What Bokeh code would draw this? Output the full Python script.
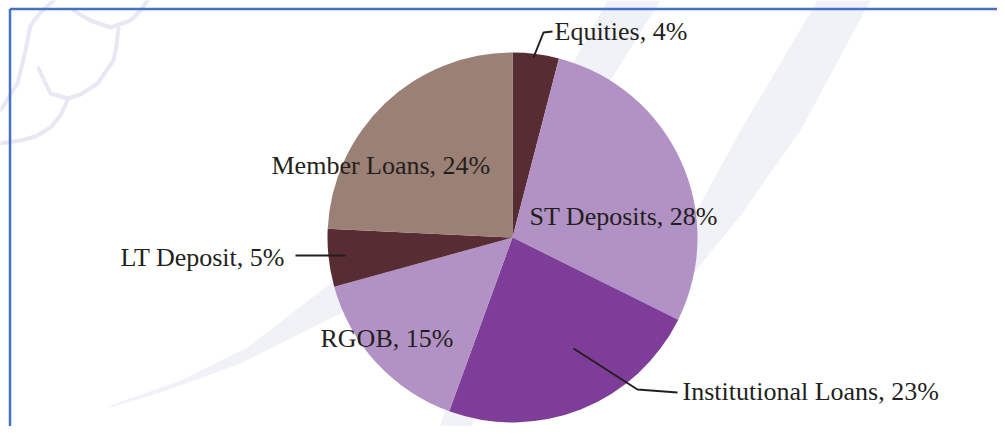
import math
from bokeh.plotting import figure
from bokeh.models import Range1d, ColumnDataSource
from bokeh.core.properties import value
from bokeh.embed import file_html
from bokeh.resources import INLINE

# ---- data ----
categories = ["Equities", "ST Deposits", "Institutional Loans", "RGOB", "LT Deposit", "Member Loans"]
shares = [4, 28, 23, 15, 5, 24]
slice_colors = ["#572C32", "#B292C4", "#7E3D98", "#B292C4", "#572C32", "#9B8075"]

# ---- layout (pixel-like coordinates: x = px, y = TOP - py) ----
W, H = 997, 426
TOP = 426
cx, cy, r = 512, TOP - 237, 185

p = figure(width=W, height=H, output_backend="svg", toolbar_location=None,
           x_range=Range1d(0, W), y_range=Range1d(0, H),
           x_axis_location=None, y_axis_location=None, min_border=0)
p.grid.visible = False
p.outline_line_color = None
p.background_fill_color = "white"
p.border_fill_color = "white"

# ---- faint watermark decoration ----
wm = "#F1F1F8"
def Y(py):
    return [TOP - v for v in py]
# lower-left swoosh
p.patch([105, 180, 247, 330, 430, 440, 340, 240, 160, 113],
        Y([407, 380, 347, 283, 215, 250, 313, 363, 392, 406]), color=wm, line_color=None)
# top-right band
p.patch([817, 870, 800, 740, 697, 640, 600, 650, 680, 740],
        Y([0, 0, 130, 215, 268, 330, 300, 250, 240, 130]), color=wm, line_color=None)
# top-middle band
p.patch([607, 660, 610, 540, 490, 470, 437, 470, 500, 563],
        Y([0, 0, 80, 220, 330, 434, 434, 330, 220, 80]), color=wm, line_color=None)
# curly strokes top-left
curl = "#E8E8F4"
p.multi_line(
    xs=[[53, 40, 30, 25, 17, 0],
        [73, 90, 110, 130, 140, 147],
        [118, 116, 113, 97, 80, 67, 50, 38],
        [67, 60, 50, 35, 20, 0]],
    ys=[Y([0, 12, 25, 50, 83, 110]),
        Y([10, 20, 27, 20, 10, 0]),
        Y([27, 45, 60, 83, 94, 98, 93, 68]),
        Y([100, 115, 127, 136, 140, 143])],
    line_color=curl, line_width=4, line_cap="round", line_join="round")

# ---- pie ----
total = float(sum(shares))
starts, ends = [], []
acc = 0.0
for v in shares:
    starts.append(math.pi / 2 - acc / total * 2 * math.pi)
    acc += v
    ends.append(math.pi / 2 - acc / total * 2 * math.pi)
src = ColumnDataSource(dict(cat=categories, v=shares, start=starts, end=ends, color=slice_colors))
p.wedge(x=cx, y=cy, radius=r, start_angle="start", end_angle="end", direction="clock",
        fill_color="color", line_color=None, source=src)

# ---- labels ----
label_pos = {
    "Equities": (554, 31),
    "ST Deposits": (529, 216),
    "Institutional Loans": (682, 391),
    "RGOB": (320, 338),
    "LT Deposit": (120, 257),
    "Member Loans": (271, 165),
}
lx = [label_pos[c][0] for c in categories]
ly = [TOP - label_pos[c][1] for c in categories]
lt = [f"{c}, {v}%" for c, v in zip(categories, shares)]
p.text(x=lx, y=ly, text=lt, text_font=value("Liberation Serif"), text_font_size="26px",
       text_color="#231F20", text_align="left", text_baseline="alphabetic")

# leader lines
leaders = [
    ([533, 543, 552], [57, 32, 31]),
    ([573, 637, 677], [348, 389, 392]),
    ([295, 345], [255, 255]),
]
for xs, ys in leaders:
    p.line(xs, Y(ys), line_color="#231F20", line_width=2)

# ---- frame border (top and left) ----
border = "#4472C4"
p.line([9.5, W], [TOP - 8.5, TOP - 8.5], line_color=border, line_width=2.5)
p.line([9.5, 9.5], [TOP - 8.5, 0], line_color=border, line_width=2.5)

open("out.html", "w").write(file_html(p, INLINE))
